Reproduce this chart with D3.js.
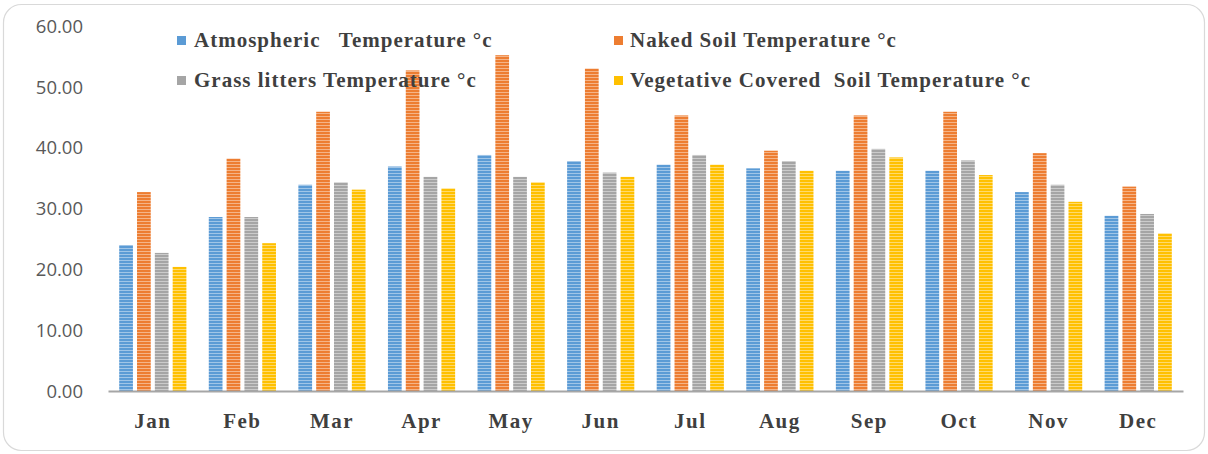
<!DOCTYPE html>
<html>
<head>
<meta charset="utf-8">
<script src="https://cdn.jsdelivr.net/npm/d3@7"></script>
<style>
  html, body { margin: 0; padding: 0; background: #ffffff; }
  svg { display: block; }
  text { white-space: pre; }
</style>
</head>
<body>
<div id="chart"></div>
<script>
const months = ["Jan","Feb","Mar","Apr","May","Jun","Jul","Aug","Sep","Oct","Nov","Dec"];
const seriesNames = [
  "Atmospheric   Temperature °c",
  "Naked Soil Temperature °c",
  "Grass litters Temperature °c",
  "Vegetative Covered  Soil Temperature °c"
];
const atmospheric = [24.0, 28.6, 33.9, 36.9, 38.8, 37.8, 37.2, 36.6, 36.2, 36.2, 32.7, 28.8];
const nakedSoil   = [32.7, 38.2, 45.9, 52.7, 55.2, 53.0, 45.3, 39.5, 45.3, 45.9, 39.1, 33.6];
const grassLitter = [22.7, 28.6, 34.3, 35.2, 35.2, 35.9, 38.8, 37.8, 39.8, 37.9, 33.9, 29.1];
const vegetative  = [20.4, 24.3, 33.1, 33.3, 34.3, 35.2, 37.2, 36.2, 38.4, 35.5, 31.1, 25.9];
const yTicks = [0, 10, 20, 30, 40, 50, 60];
const colors = ["#5B9BD5", "#ED7D31", "#A5A5A5", "#FFC000"];

const allSeries = [atmospheric, nakedSoil, grassLitter, vegetative];

const W = 1208, H = 454;
const margin = { left: 108, right: 25, top: 26, bottom: 63 };

const svg = d3.select("#chart").append("svg")
  .attr("width", W).attr("height", H);

// Patterns (horizontal stripes)
const defs = svg.append("defs");
colors.forEach((c, i) => {
  const p = defs.append("pattern")
    .attr("id", "stripe" + i)
    .attr("patternUnits", "userSpaceOnUse")
    .attr("width", 6).attr("height", 3);
  p.append("rect").attr("width", 6).attr("height", 3).attr("fill", c);
  p.append("rect").attr("y", 2).attr("width", 6).attr("height", 1)
    .attr("fill", "#ffffff").attr("opacity", 0.42);
});

// Outer border
svg.append("rect")
  .attr("x", 3.5).attr("y", 4.5)
  .attr("width", W - 7).attr("height", H - 8)
  .attr("rx", 18).attr("ry", 18)
  .attr("fill", "#ffffff")
  .attr("stroke", "#d9d9d9").attr("stroke-width", 1.2);

const x0 = d3.scaleBand()
  .domain(months)
  .range([margin.left, W - margin.right])
  .paddingInner(0.25)
  .paddingOuter(0.125);

const x1 = d3.scaleBand()
  .domain(d3.range(4))
  .range([0, x0.bandwidth()])
  .paddingInner(0.23);

const y = d3.scaleLinear()
  .domain([0, 60])
  .range([H - margin.bottom, margin.top]);

// Y axis labels
const yAxis = d3.axisLeft(y)
  .tickValues(yTicks)
  .tickFormat(d3.format(".2f"))
  .tickSize(0)
  .tickPadding(0);
const gy = svg.append("g")
  .attr("transform", `translate(83,0)`)
  .call(yAxis);
gy.select(".domain").remove();
gy.selectAll("text")
  .attr("font-family", "'Open Sans', sans-serif")
  .attr("font-size", 18.5)
  .attr("fill", "#595959")
  .attr("dy", "0.34em");

// Bars
const groups = svg.append("g").selectAll("g")
  .data(months)
  .join("g")
  .attr("transform", d => `translate(${x0(d)},0)`);

groups.selectAll("rect")
  .data((m, mi) => allSeries.map((s, si) => ({ si, v: s[mi] })))
  .join("rect")
  .attr("x", d => x1(d.si))
  .attr("width", x1.bandwidth())
  .attr("y", d => y(d.v))
  .attr("height", d => y(0) - y(d.v))
  .attr("fill", d => `url(#stripe${d.si})`);

// X axis
const xAxis = d3.axisBottom(x0).tickSize(0).tickPadding(0).tickSizeOuter(0);
const gx = svg.append("g")
  .attr("transform", `translate(0,${y(0)})`)
  .call(xAxis);
gx.select(".domain")
  .attr("stroke", "#a6a6a6").attr("stroke-width", 2);
gx.selectAll("text")
  .attr("font-family", "'Liberation Serif', 'Times New Roman', serif")
  .attr("font-weight", "bold")
  .attr("font-size", 21)
  .attr("letter-spacing", 1.5)
  .attr("fill", "#3f3f3f")
  .attr("dy", 0)
  .attr("y", 37);

// Legend
const legendPos = [
  { x: 177, y: 47, tx: 194 },
  { x: 614, y: 47, tx: 630 },
  { x: 177, y: 87, tx: 194 },
  { x: 614, y: 87, tx: 630 }
];
const legend = svg.append("g");
seriesNames.forEach((name, i) => {
  const p = legendPos[i];
  legend.append("rect")
    .attr("x", p.x).attr("y", p.y - 11)
    .attr("width", 9).attr("height", 9)
    .attr("fill", colors[i]);
  legend.append("text")
    .attr("x", p.tx).attr("y", p.y)
    .attr("font-family", "'Liberation Serif', 'Times New Roman', serif")
    .attr("font-weight", "bold")
    .attr("font-size", 21)
    .attr("letter-spacing", 1)
    .attr("fill", "#3f3f3f")
    .text(name);
});
</script>
</body>
</html>
